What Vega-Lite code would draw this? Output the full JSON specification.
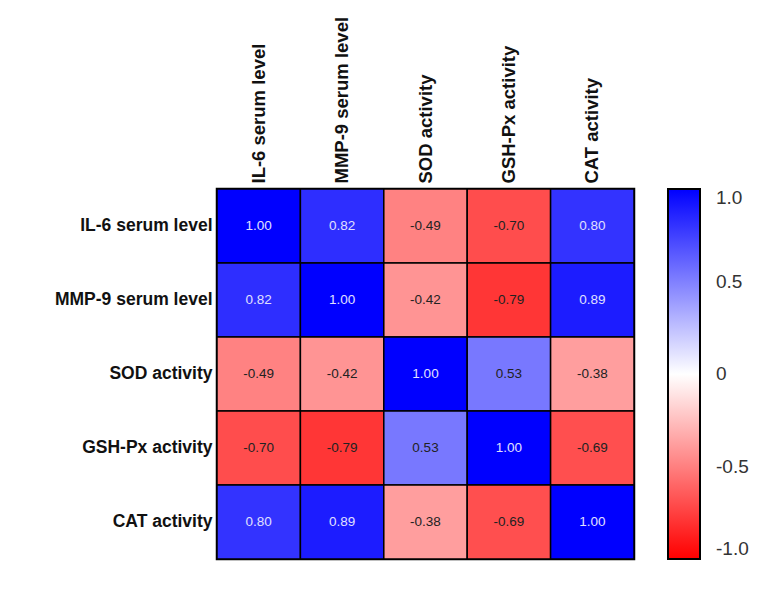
{
  "$schema": "https://vega.github.io/schema/vega-lite/v6.json",
  "autosize": {"type": "none"},
  "width": 417,
  "height": 370,
  "padding": {"left": 217, "top": 189, "right": 149, "bottom": 35},
  "background": "white",
  "config": {
    "font": "Liberation Sans",
    "view": {"stroke": "black", "strokeWidth": 2.5},
    "locale": {"number": {"decimal": ".", "thousands": ",", "grouping": [3], "currency": ["$", ""], "minus": "-"}}
  },
  "data": {
    "values": [
      {"row": "IL-6 serum level", "col": "IL-6 serum level", "r": 1.00},
      {"row": "IL-6 serum level", "col": "MMP-9 serum level", "r": 0.82},
      {"row": "IL-6 serum level", "col": "SOD activity", "r": -0.49},
      {"row": "IL-6 serum level", "col": "GSH-Px activity", "r": -0.70},
      {"row": "IL-6 serum level", "col": "CAT activity", "r": 0.80},
      {"row": "MMP-9 serum level", "col": "IL-6 serum level", "r": 0.82},
      {"row": "MMP-9 serum level", "col": "MMP-9 serum level", "r": 1.00},
      {"row": "MMP-9 serum level", "col": "SOD activity", "r": -0.42},
      {"row": "MMP-9 serum level", "col": "GSH-Px activity", "r": -0.79},
      {"row": "MMP-9 serum level", "col": "CAT activity", "r": 0.89},
      {"row": "SOD activity", "col": "IL-6 serum level", "r": -0.49},
      {"row": "SOD activity", "col": "MMP-9 serum level", "r": -0.42},
      {"row": "SOD activity", "col": "SOD activity", "r": 1.00},
      {"row": "SOD activity", "col": "GSH-Px activity", "r": 0.53},
      {"row": "SOD activity", "col": "CAT activity", "r": -0.38},
      {"row": "GSH-Px activity", "col": "IL-6 serum level", "r": -0.70},
      {"row": "GSH-Px activity", "col": "MMP-9 serum level", "r": -0.79},
      {"row": "GSH-Px activity", "col": "SOD activity", "r": 0.53},
      {"row": "GSH-Px activity", "col": "GSH-Px activity", "r": 1.00},
      {"row": "GSH-Px activity", "col": "CAT activity", "r": -0.69},
      {"row": "CAT activity", "col": "IL-6 serum level", "r": 0.80},
      {"row": "CAT activity", "col": "MMP-9 serum level", "r": 0.89},
      {"row": "CAT activity", "col": "SOD activity", "r": -0.38},
      {"row": "CAT activity", "col": "GSH-Px activity", "r": -0.69},
      {"row": "CAT activity", "col": "CAT activity", "r": 1.00}
    ]
  },
  "encoding": {
    "x": {
      "field": "col", "type": "nominal",
      "sort": ["IL-6 serum level", "MMP-9 serum level", "SOD activity", "GSH-Px activity", "CAT activity"],
      "scale": {"paddingInner": 0, "paddingOuter": 0},
      "axis": {
        "orient": "top", "title": null, "domain": false, "ticks": false,
        "labelAngle": -90, "labelAlign": "left", "labelBaseline": "middle",
        "labelPadding": 6, "labelFontSize": 18.5, "labelFontWeight": "bold",
        "labelColor": "#111"
      }
    },
    "y": {
      "field": "row", "type": "nominal",
      "sort": ["IL-6 serum level", "MMP-9 serum level", "SOD activity", "GSH-Px activity", "CAT activity"],
      "scale": {"paddingInner": 0, "paddingOuter": 0},
      "axis": {
        "title": null, "domain": false, "ticks": false,
        "labelPadding": 5, "labelFontSize": 17.5, "labelFontWeight": "bold",
        "labelColor": "#111"
      }
    }
  },
  "layer": [
    {
      "mark": {"type": "rect", "stroke": "black", "strokeWidth": 1.5},
      "encoding": {
        "color": {
          "field": "r", "type": "quantitative",
          "scale": {"domain": [-1, 0, 1], "range": ["#ff0000", "#ffffff", "#0000ff"], "interpolate": "rgb"},
          "legend": {
            "title": null,
            "orient": "none",
            "legendX": 451,
            "legendY": 0,
            "direction": "vertical",
            "gradientLength": 370,
            "gradientThickness": 32,
            "gradientStrokeColor": "black",
            "gradientStrokeWidth": 2,
            "values": [-1, -0.5, 0, 0.5, 1],
            "labelExpr": "datum.value == 0 ? '0' : format(datum.value, '.1f')",
            "labelFontSize": 19,
            "labelColor": "#333",
            "labelOffset": 16,
            "labelOverlap": false
          }
        }
      }
    },
    {
      "mark": {"type": "text", "fontSize": 13.5},
      "encoding": {
        "text": {"field": "r", "type": "quantitative", "format": ".2f"},
        "color": {
          "condition": {"test": "datum.r > 0.6", "value": "#e0e0ff"},
          "value": "#222222"
        }
      }
    }
  ]
}
